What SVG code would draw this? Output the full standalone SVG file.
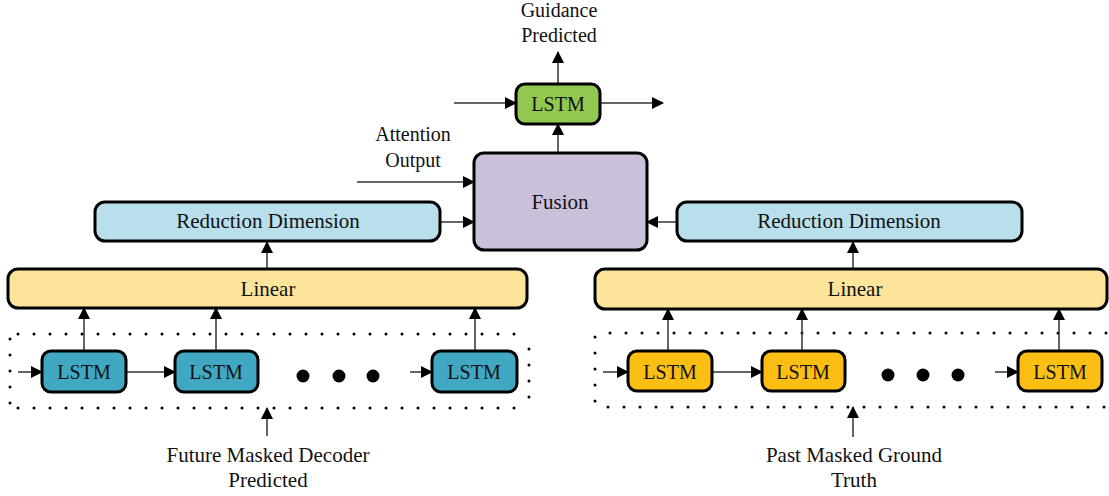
<svg xmlns="http://www.w3.org/2000/svg" width="1109" height="496" viewBox="0 0 1109 496">
<defs>
<marker id="ah" markerWidth="12" markerHeight="12" refX="11" refY="6" orient="auto" markerUnits="userSpaceOnUse">
<path d="M0,0 L12,6 L0,12 Z" fill="#000"/>
</marker>
<style>
text{font-family:"Liberation Serif","Times New Roman",serif;fill:#111;text-anchor:middle}
.box{stroke:#000;stroke-width:3}
.lstmB{fill:#41A8C4}
.lstmO{fill:#FBBF14}
.lstmG{fill:#92C850}
.red{fill:#B8DFEB}
.lin{fill:#FCE49B}
.fus{fill:#CBC0DA}
.c{stroke:#333;stroke-width:1.5;fill:none;marker-end:url(#ah)}
.dot{stroke:#000;stroke-width:3;stroke-linecap:round;stroke-dasharray:0 16;fill:none}
.t20{font-size:20px}
.t21{font-size:21px}
</style>
</defs>
<rect width="1109" height="496" fill="#fff"/>

<g id="dotted-left">
<path class="dot" d="M18,334 H530"/>
<path class="dot" d="M18,408 H530"/>
<path class="dot" d="M10,339 V405"/>
<path class="dot" d="M529,349 V405"/>
</g>
<g id="dotted-right">
<path class="dot" d="M610,333 H1109"/>
<path class="dot" d="M608,407 H1109"/>
<path class="dot" d="M595,337 V403"/>
</g>

<g id="connectors">
<path class="c" d="M558,84 V52"/>
<path class="c" d="M454,103 H516"/>
<path class="c" d="M600,103 H663"/>
<path class="c" d="M558,153 V124"/>
<path class="c" d="M357,182 H474"/>
<path class="c" d="M440,222 H474"/>
<path class="c" d="M677,222 H647"/>
<path class="c" d="M267,269 V242"/>
<path class="c" d="M853,269 V242"/>
<path class="c" d="M84,351 V308"/>
<path class="c" d="M216,351 V308"/>
<path class="c" d="M475,351 V308"/>
<path class="c" d="M668,351 V309"/>
<path class="c" d="M802,351 V309"/>
<path class="c" d="M1059,351 V309"/>
<path class="c" d="M18,372 H42"/>
<path class="c" d="M126,372 H175"/>
<path class="c" d="M410,372 H432"/>
<path class="c" d="M603,372 H628"/>
<path class="c" d="M712,372 H762"/>
<path class="c" d="M995,372 H1018"/>
<path class="c" d="M267,436 V408"/>
<path class="c" d="M853,437 V407"/>
</g>

<g id="guidance-label">
<text class="t20" x="559" y="17">Guidance</text>
<text class="t20" x="559" y="42">Predicted</text>
</g>
<g id="attention-label">
<text class="t20" x="413" y="141">Attention</text>
<text class="t20" x="413" y="167">Output</text>
</g>

<g id="lstm-top"><rect class="box lstmG" x="516" y="84" width="84" height="40" rx="9"/><text class="t20" x="558" y="111">LSTM</text></g>
<g id="fusion"><rect class="box fus" x="474" y="153" width="173" height="97" rx="10"/><text class="t21" x="560" y="209">Fusion</text></g>
<g id="reduction-left"><rect class="box red" x="95" y="202" width="345" height="39" rx="10"/><text class="t21" x="268" y="228">Reduction Dimension</text></g>
<g id="reduction-right"><rect class="box red" x="677" y="202" width="345" height="39" rx="10"/><text class="t21" x="849" y="228">Reduction Dimension</text></g>
<g id="linear-left"><rect class="box lin" x="8" y="269" width="519" height="39" rx="10"/><text class="t21" x="268" y="296">Linear</text></g>
<g id="linear-right"><rect class="box lin" x="595" y="269" width="512" height="40" rx="10"/><text class="t21" x="855" y="296">Linear</text></g>

<g id="lstm-l1"><rect class="box lstmB" x="42" y="351" width="84" height="41" rx="9"/><text class="t20" x="84" y="379">LSTM</text></g>
<g id="lstm-l2"><rect class="box lstmB" x="175" y="351" width="83" height="41" rx="9"/><text class="t20" x="216" y="379">LSTM</text></g>
<g id="lstm-l3"><rect class="box lstmB" x="432" y="351" width="85" height="41" rx="9"/><text class="t20" x="474" y="379">LSTM</text></g>
<g id="ellipsis-left" fill="#000"><circle cx="303" cy="376" r="6.5"/><circle cx="339" cy="376" r="6.5"/><circle cx="373" cy="376" r="6.5"/></g>

<g id="lstm-r1"><rect class="box lstmO" x="628" y="351" width="84" height="40" rx="9"/><text class="t20" x="670" y="379">LSTM</text></g>
<g id="lstm-r2"><rect class="box lstmO" x="762" y="351" width="83" height="40" rx="9"/><text class="t20" x="803" y="379">LSTM</text></g>
<g id="lstm-r3"><rect class="box lstmO" x="1018" y="351" width="84" height="40" rx="9"/><text class="t20" x="1060" y="379">LSTM</text></g>
<g id="ellipsis-right" fill="#000"><circle cx="888" cy="375" r="6.5"/><circle cx="923" cy="375" r="6.5"/><circle cx="958" cy="375" r="6.5"/></g>

<g id="future-label">
<text class="t21" x="268" y="462">Future Masked Decoder</text>
<text class="t21" x="268" y="487">Predicted</text>
</g>
<g id="past-label">
<text class="t21" x="854" y="462">Past Masked Ground</text>
<text class="t21" x="854" y="487">Truth</text>
</g>
</svg>
